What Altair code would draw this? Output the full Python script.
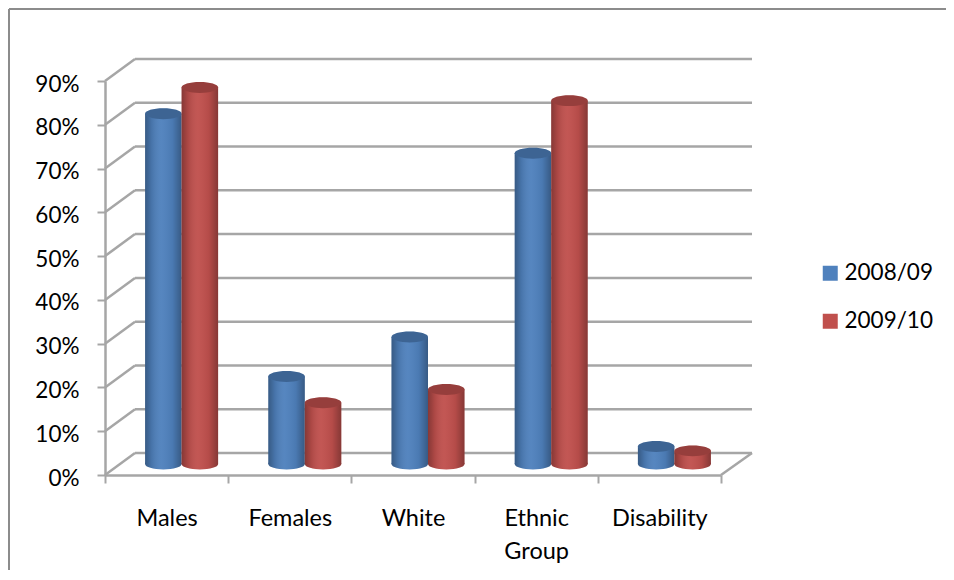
import altair as alt
import pandas as pd

categories = ["Males", "Females", "White", "Ethnic Group", "Disability"]
series_a = [0.80, 0.20, 0.29, 0.71, 0.04]
series_b = [0.86, 0.14, 0.17, 0.83, 0.03]
series_names = ["2008/09", "2009/10"]
series_colors = ["#4F81BD", "#C0504D"]
y_ticks = [0, .1, .2, .3, .4, .5, .6, .7, .8, .9]

W, H = 616, 394
DX, DY = 30, 22          # depth of the 3-D box, in pixels
GREY = "#a6a6a6"
FONT = "Lato"
FS_X = 23.5
FS_N = 22.5
BAR = 36.5
RX_PATH = "M-1,0 A1,0.3 0 1,0 1,0 A1,0.3 0 1,0 -1,0 Z"
SYM = (BAR) ** 2

df = pd.DataFrame({
    "cat": categories * 2,
    "v": series_a + series_b,
    "s": [series_names[0]] * 5 + [series_names[1]] * 5,
})
ticks = pd.DataFrame({"t": y_ticks})

y_scale = alt.Scale(domain=[0, 0.9], nice=False)
y_axis = alt.Axis(values=y_ticks, format=".0%", labelFont=FONT, labelFontSize=FS_N,
                  labelColor="#000000", labelPadding=18, labelOffset=3,
                  domainColor=GREY, domainWidth=2.5, tickColor=GREY, tickWidth=2,
                  tickSize=8, grid=False)
x = alt.X("cat:N", sort=categories, title=None,
          scale=alt.Scale(paddingInner=0, paddingOuter=0),
          axis=alt.Axis(tickBand="extent", labelAngle=0, labelFont=FONT, labelFontSize=FS_X,
                        labelColor="#000000", labelPadding=23, labelLineHeight=33,
                        labelExpr="split(datum.label, ' ')", labelBaseline="top",
                        domainColor=GREY, domainWidth=2.5, tickColor=GREY, tickWidth=2,
                        tickSize=8, grid=False))
y = alt.Y("v:Q", title=None, scale=y_scale, axis=y_axis)
yt = alt.Y("t:Q", title=None, scale=y_scale, axis=y_axis)
y0 = alt.Y(datum=0, title=None, scale=y_scale, axis=y_axis)
color = alt.Color("s:N", title=None,
                  scale=alt.Scale(domain=series_names, range=series_colors),
                  legend=alt.Legend(orient="none", legendX=714, legendY=181, symbolType="square",
                                    symbolSize=225, symbolStrokeWidth=0, symbolOpacity=1,
                                    labelFont=FONT, labelFontSize=FS_N, labelColor="#000000",
                                    labelOffset=3, rowPadding=25,
                                    labelExpr="datum.index == 0 ? '\u2002' + datum.label : datum.label"))

shade = alt.LinearGradient(gradient="linear", x1=0, x2=1, y1=0, y2=0, stops=[
    alt.GradientStop(color="rgba(0,0,0,0.30)", offset=0),
    alt.GradientStop(color="rgba(0,0,0,0.10)", offset=0.18),
    alt.GradientStop(color="rgba(255,255,255,0.04)", offset=0.45),
    alt.GradientStop(color="rgba(0,0,0,0.06)", offset=0.75),
    alt.GradientStop(color="rgba(0,0,0,0.30)", offset=1),
])

base = alt.Chart(ticks)
wall = base.mark_rule(color=GREY, strokeWidth=2.5, yOffset=-DY, y2Offset=-DY).encode(
    x=alt.value(DX), x2=alt.value(W + DX + 1), y=yt)
side = base.mark_rule(color=GREY, strokeWidth=2.5, y2Offset=-DY).encode(
    x=alt.value(0), x2=alt.value(DX), y=yt, y2="t:Q")
floor_end = alt.Chart(ticks[ticks.t == 0]).mark_rule(color=GREY, strokeWidth=2.5, y2Offset=-DY).encode(
    x=alt.value(W), x2=alt.value(W + DX + 1), y=yt, y2="t:Q")

frame_top = alt.Chart(ticks.head(1)).mark_rule(color="#8c8c8c", strokeWidth=2).encode(
    x=alt.value(-96), x2=alt.value(W + 225), y=alt.value(-72))
frame_left = alt.Chart(ticks.head(1)).mark_rule(color="#8c8c8c", strokeWidth=2).encode(
    x=alt.value(-96), y=alt.value(-72), y2=alt.value(H + 97))


def cylinder(name, off):
    d = alt.Chart(df[df.s == name])
    offs = dict(xOffset=off, yOffset=-DY / 2)
    bar_offs = dict(size=BAR, y2Offset=-DY / 2, **offs)
    pt = dict(shape=RX_PATH, size=SYM, opacity=1, strokeWidth=0, **offs)
    return [
        d.mark_point(filled=True, **pt).encode(x=x, y=y0, color=color),
        d.mark_point(fill=shade, **pt).encode(x=x, y=y0),
        d.mark_bar(**bar_offs).encode(x=x, y=y, color=color),
        d.mark_bar(fill=shade, **bar_offs).encode(x=x, y=y),
        d.mark_point(filled=True, **pt).encode(x=x, y=y, color=color),
        d.mark_point(fill="rgba(0,0,0,0.22)", **pt).encode(x=x, y=y),
    ]


chart = alt.layer(
    frame_top, frame_left, wall, side, floor_end,
    *cylinder(series_names[0], 15 - BAR / 2),
    *cylinder(series_names[1], 15 + BAR / 2),
).properties(
    width=W, height=H,
    padding={"left": 97, "top": 73, "right": 225, "bottom": 95},
    autosize=alt.AutoSizeParams(type="none"),
).configure_view(stroke=None)

chart.save("out.html", embed_options={"renderer": "svg", "actions": False})
